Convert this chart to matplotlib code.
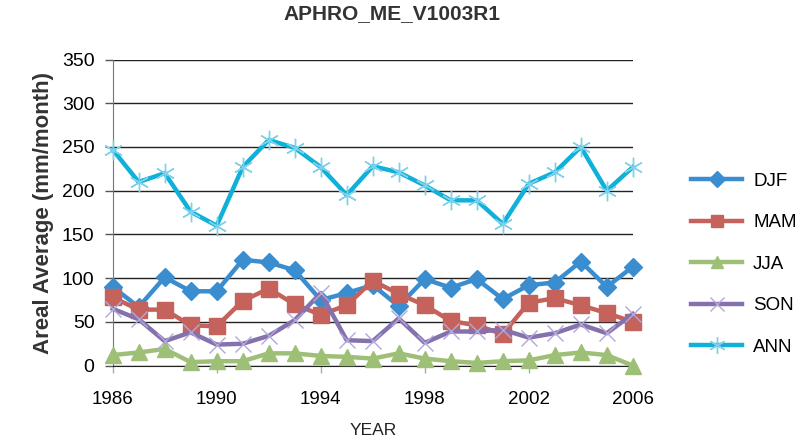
import numpy as np
import matplotlib
matplotlib.use("Agg")
import matplotlib.pyplot as plt

years = np.arange(1986, 2007)

djf = [90, 67, 101, 85, 85, 121, 118, 109, 75, 83, 92, 68,
       99, 89, 99, 76, 92, 95, 119, 90, 113]
mam = [78, 64, 64, 46, 45, 74, 88, 70, 58, 69, 97, 82,
       69, 51, 46, 36, 72, 77, 69, 60, 50]
jja = [12, 15, 19, 4, 5, 5, 14, 14, 11, 10, 8, 14,
       8, 5, 3, 5, 6, 12, 15, 12, 0]
son = [65, 53, 28, 38, 24, 25, 34, 52, 83, 29, 28, 54,
       26, 39, 39, 41, 32, 37, 47, 37, 59]
ann = [247, 210, 220, 176, 160, 227, 258, 249, 227, 195, 228, 221,
       206, 189, 189, 162, 208, 221, 250, 200, 227]

plt.rcParams["font.family"] = ["Liberation Sans", "DejaVu Sans"]

fig = plt.figure(figsize=(7.99, 4.41), dpi=100)
ax = fig.add_axes([0.141, 0.171, 0.651, 0.694])

series = [
    ("DJF", djf, "#3a8ed0", dict(marker="D", markersize=9, markeredgecolor="#3a8ed0")),
    ("MAM", mam, "#c4625b", dict(marker="s", markersize=11, markeredgecolor="#c4625b")),
    ("JJA", jja, "#9dbf76", dict(marker="^", markersize=11, markeredgecolor="#9dbf76")),
    ("SON", son, "#8571ad", dict(marker="x", markersize=12, markeredgecolor="#b2a8d8",
                                 markeredgewidth=1.0)),
    ("ANN", ann, "#10b1d8", dict(marker=(6, 2, 0), markersize=14, markeredgecolor="#7fd0ea",
                                 markeredgewidth=1.0)),
]

for label, vals, color, mk in series:
    ax.plot(years, vals, color=color, linewidth=3.2, label=label,
            clip_on=False, zorder=3, **mk)

ax.set_xlim(1986, 2006)
ax.set_ylim(0, 350)
ax.set_xticks(np.arange(1986, 2007, 4))
ax.set_yticks(np.arange(0, 351, 50))
ax.yaxis.grid(True, color="#222222", linewidth=1.0)
ax.set_axisbelow(True)

for s in ["top", "right"]:
    ax.spines[s].set_visible(False)
ax.spines["left"].set_color("#777777")
ax.spines["bottom"].set_color("#222222")

ax.tick_params(axis="y", length=6, width=1, color="#555555", labelsize=14, pad=7)
ax.tick_params(axis="x", length=5, width=1, color="#aaaaaa", labelsize=13.5, pad=13)

ax.set_ylabel("Areal Average (mm/month)", fontsize=16, fontweight="bold",
              color="#333333", labelpad=6)
ax.set_xlabel("YEAR", fontsize=12.5, color="#222222", labelpad=11)
fig.suptitle("APHRO_ME_V1003R1", x=0.49, y=0.99, fontsize=15, fontweight="bold",
             color="#333333")

ax.legend(loc="upper left", bbox_to_anchor=(1.08, 0.685), frameon=False,
          fontsize=13.5, handlelength=2.7, labelspacing=1.3, handletextpad=0.6,
          markerscale=0.85)

fig.savefig("out.png", dpi=100)
